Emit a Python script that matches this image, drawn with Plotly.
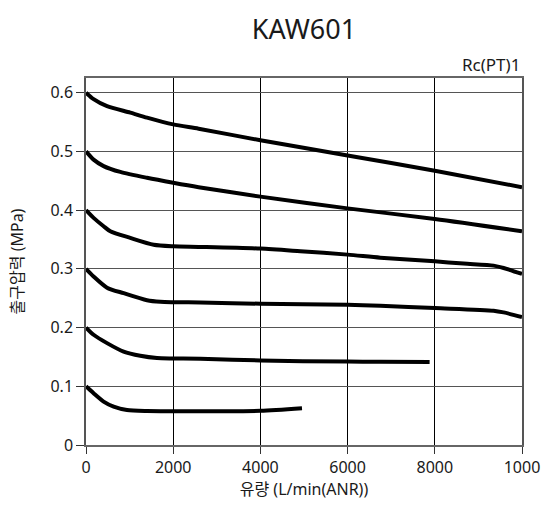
import plotly.graph_objects as go

# Flow (L/min(ANR)) vs outlet pressure (MPa), one list pair per set pressure
x_06 = [0, 174, 482, 1016, 1399, 2000, 2583, 4000, 6000, 8000, 10000]
y_06 = [0.600, 0.589, 0.577, 0.566, 0.5575, 0.546, 0.5387, 0.519, 0.493, 0.467, 0.439]

x_05 = [0, 174, 404, 787, 1399, 2000, 2583, 4000, 6000, 8000, 10000]
y_05 = [0.500, 0.486, 0.475, 0.465, 0.455, 0.4466, 0.439, 0.423, 0.403, 0.385, 0.364]

x_04 = [0, 174, 404, 557, 1016, 1552, 2000, 2622, 4000, 4915, 6000, 6750, 8000, 8660, 9348, 9578, 10000]
y_04 = [0.400, 0.3868, 0.3726, 0.364, 0.3527, 0.341, 0.3384, 0.3374, 0.3345, 0.330, 0.3242, 0.319,
        0.3128, 0.3089, 0.3055, 0.3015, 0.2913]

x_03 = [0, 174, 482, 863, 1399, 1705, 2000, 2622, 4000, 6000, 6750, 8000, 9348, 9578, 10000]
y_03 = [0.300, 0.287, 0.268, 0.2585, 0.2465, 0.2438, 0.2432, 0.2428, 0.2406, 0.2389, 0.2372,
        0.2332, 0.2287, 0.2258, 0.2179]

x_02 = [0, 174, 482, 863, 1245, 1628, 2000, 2622, 4000, 6000, 6750, 7881]
y_02 = [0.200, 0.1877, 0.1735, 0.159, 0.1519, 0.148, 0.1474, 0.147, 0.1439, 0.1420, 0.1417, 0.1412]

x_01 = [0, 174, 404, 634, 940, 1399, 2000, 2622, 4000, 4954]
y_01 = [0.100, 0.0882, 0.074, 0.0654, 0.0597, 0.0580, 0.0576, 0.0575, 0.0582, 0.0626]

series = [(x_06, y_06), (x_05, y_05), (x_04, y_04), (x_03, y_03), (x_02, y_02), (x_01, y_01)]

x_tickvals = [0, 2000, 4000, 6000, 8000, 10000]
x_ticktext = ["0", "2000", "4000", "6000", "8000", "1000"]
y_tickvals = [0, 0.1, 0.2, 0.3, 0.4, 0.5, 0.6]
y_ticktext = ["0", "0.1", "0.2", "0.3", "0.4", "0.5", "0.6"]

FONT = "Noto Sans, Noto Sans CJK KR, sans-serif"
TXT = "#1a1a1a"

fig = go.Figure()
for xs, ys in series:
    fig.add_trace(go.Scatter(x=xs, y=ys, mode="lines",
                             line=dict(color="black", width=4, shape="spline", smoothing=0.7),
                             showlegend=False, hoverinfo="skip"))

fig.update_layout(
    width=543, height=505,
    margin=dict(l=86, r=21, t=78, b=60, autoexpand=False),
    paper_bgcolor="white", plot_bgcolor="white",
    font=dict(family=FONT, size=16, color=TXT),
    title=dict(text="KAW601", xref="paper", x=0.5, xanchor="center",
               yref="container", y=1 - 30 / 505, yanchor="middle",
               font=dict(size=27, color=TXT, family=FONT)),
    xaxis=dict(range=[0, 10000], tickvals=x_tickvals, ticktext=x_ticktext,
               showgrid=True, gridcolor="black", gridwidth=1,
               showline=True, linecolor="#666", linewidth=1.5, mirror=True,
               ticks="outside", ticklen=7, tickcolor="#333", zeroline=False,
               automargin=False, tickfont=dict(size=16),
               title=dict(text="유량 (L/min(ANR))", font=dict(size=16), standoff=6)),
    yaxis=dict(range=[0, 0.625], tickvals=y_tickvals, ticktext=y_ticktext,
               showgrid=True, gridcolor="#555", gridwidth=1,
               showline=True, linecolor="#555", linewidth=1.5, mirror=True,
               ticks="outside", ticklen=8, tickcolor="#333", zeroline=False,
               automargin=False, tickfont=dict(size=16),
               title=dict(text="출구압력 (MPa)", font=dict(size=16), standoff=23)),
    annotations=[dict(text="Rc(PT)1", xref="paper", yref="paper", x=1.0, y=1.0,
                      xanchor="right", yanchor="bottom", yshift=0, showarrow=False,
                      font=dict(size=17, color=TXT, family=FONT))],
)

fig.write_html("out.html",
               config={"displayModeBar": False},
               post_script="document.body.style.margin='0';document.body.style.overflow='hidden';")
